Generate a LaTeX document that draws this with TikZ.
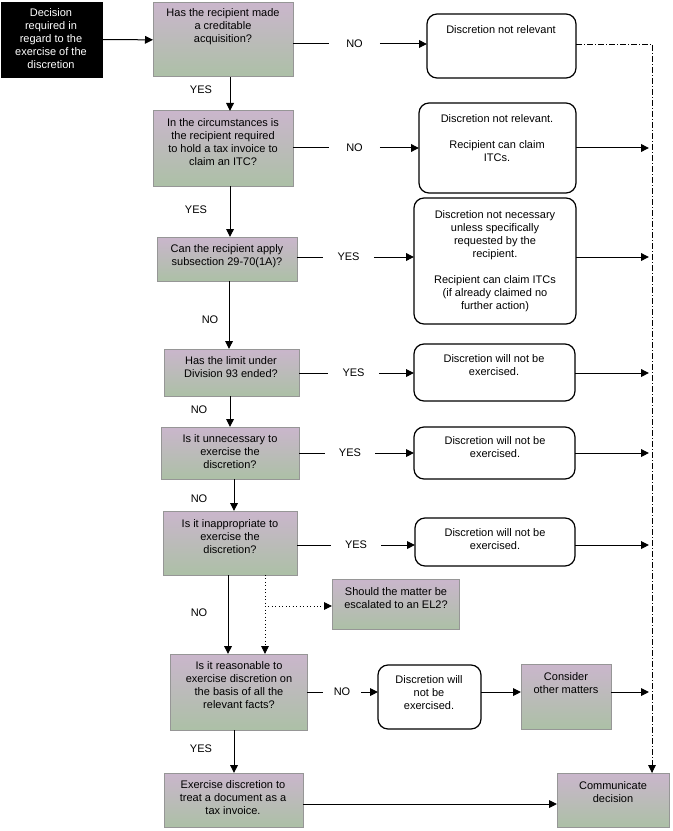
\documentclass[tikz,border=0pt]{standalone}
\usepackage{fontspec}
\setmainfont{Liberation Sans}
\usetikzlibrary{arrows.meta,fit}
\definecolor{qtop}{RGB}{202,182,204}
\definecolor{qbot}{RGB}{172,192,166}
\definecolor{qline}{RGB}{150,150,150}
\begin{document}
\begin{tikzpicture}[x=0.75pt,y=-0.75pt,
  font=\fontsize{8.25}{9.75}\selectfont,
  qbox/.style={draw=qline,line width=0.75pt,top color=qtop,bottom color=qbot,inner sep=0pt,outer sep=0pt},
  rbox/.style={draw=black,line width=0.9pt,rounded corners=7.5pt,fill=white,inner sep=0pt,outer sep=0pt},
  bbox/.style={draw=black,fill=black,inner sep=0pt,outer sep=0pt},
  txt/.style={align=center,inner sep=0pt},
  lbl/.style={inner sep=0pt,minimum width=37.5pt,minimum height=8pt},
  vlbl/.style={inner sep=0pt},
  conn/.style={line width=0.75pt},
  arr/.style={line width=0.75pt,-{Triangle[length=6pt,width=5.8pt]}},
  dotarr/.style={line width=0.6pt,dotted,-{Triangle[length=6pt,width=5.8pt]}},
  dasharr/.style={line width=0.6pt,dash pattern=on 4.5pt off 1.5pt on 0.75pt off 1.5pt,-{Triangle[length=6pt,width=5.8pt]}}]
\useasboundingbox (0,0) rectangle (672,831);

% ---------- boxes ----------
\node[bbox,fit={(1,2) (102,77)}] (blk) {};
\node[qbox,fit={(153,3) (293,77)}] (q1) {};
\node[qbox,fit={(153,111) (293,186)}] (q2) {};
\node[qbox,fit={(157,237) (297,281)}] (q3) {};
\node[qbox,fit={(164,349) (299,396)}] (q4) {};
\node[qbox,fit={(161,427) (299,479)}] (q5) {};
\node[qbox,fit={(163,511) (297,575)}] (q6) {};
\node[qbox,fit={(332,579) (459,629)}] (el2) {};
\node[qbox,fit={(170,654) (307,730)}] (q7) {};
\node[qbox,fit={(164,773) (303,827)}] (q8) {};
\node[qbox,fit={(521,664) (611,729)}] (cons) {};
\node[qbox,fit={(557,773) (669,827)}] (comm) {};

\node[rbox,fit={(427,14) (576,78)}] (r1) {};
\node[rbox,fit={(419,103) (576,193)}] (r2) {};
\node[rbox,fit={(414,198) (576,324)}] (r3) {};
\node[rbox,fit={(414,344) (575,401)}] (r4) {};
\node[rbox,fit={(414,427) (575,479)}] (r5) {};
\node[rbox,fit={(415,518) (575,566)}] (r6) {};
\node[rbox,fit={(378,665) (481,729)}] (r7) {};

% ---------- texts ----------
\node[txt,text=white] (blkt) at (51,39) {Decision\\required in\\regard to the\\exercise of the\\discretion};
\node[txt] (q1t) at (223,27) {Has the recipient made\\a creditable\\acquisition?};
\node[txt] (q2t) at (223,142) {In the circumstances is\\the recipient required\\to hold a tax invoice to\\claim an ITC?};
\node[txt] (q3t) at (227,256) {Can the recipient apply\\subsection 29-70(1A)?};
\node[txt] (q4t) at (231,367) {Has the limit under\\Division 93 ended?};
\node[txt] (q5t) at (230,452) {Is it unnecessary to\\exercise the\\discretion?};
\node[txt] (q6t) at (230,537) {Is it inappropriate to\\exercise the\\discretion?};
\node[txt] (el2t) at (396,598) {Should the matter be\\escalated to an EL2?};
\node[txt] (q7t) at (239,685) {Is it reasonable to\\exercise discretion on\\the basis of all the\\relevant facts?};
\node[txt] (q8t) at (233,798) {Exercise discretion to\\treat a document as a\\tax invoice.};
\node[txt] (const) at (566,683) {Consider\\other matters};
\node[txt] (commt) at (613,792) {Communicate\\decision};

\node[txt] (r1t) at (501,30) {Discretion not relevant};
\node[txt] (r2t) at (497,138.5) {Discretion not relevant.\\[9.75pt]Recipient can claim\\ITCs.};
\node[txt] (r3t) at (495,261) {Discretion not necessary\\unless specifically\\requested by the\\recipient.\\[9.75pt]Recipient can claim ITCs\\(if already claimed no\\further action)};
\node[txt] (r4t) at (494,365) {Discretion will not be\\exercised.};
\node[txt] (r5t) at (495,447) {Discretion will not be\\exercised.};
\node[txt] (r6t) at (495,539) {Discretion will not be\\exercised.};
\node[txt] (r7t) at (429,693) {Discretion will\\not be\\exercised.};

% ---------- branch labels on the right ----------
\node[lbl] (n1) at (354.5,44) {NO};
\node[lbl] (n2) at (354.5,148) {NO};
\node[lbl] (n3) at (348.5,257) {YES};
\node[lbl] (n4) at (353.5,373) {YES};
\node[lbl] (n5) at (350,453) {YES};
\node[lbl] (n6) at (356,545) {YES};
\node[lbl,minimum width=28.5pt] (n7) at (342,692) {NO};

% ---------- labels on vertical connectors ----------
\node[vlbl] (v1l) at (201,90) {YES};
\node[vlbl] (v2l) at (196,210) {YES};
\node[vlbl] (v3l) at (210,320) {NO};
\node[vlbl] (v4l) at (199,410) {NO};
\node[vlbl] (v5l) at (199,499) {NO};
\node[vlbl] (v6l) at (199,613) {NO};
\node[vlbl] (v7l) at (201,749) {YES};

% ---------- helper coordinates ----------
\coordinate (x1) at (230,0);
\coordinate (x2) at (230,0);
\coordinate (x3) at (229,0);
\coordinate (x4) at (230,0);
\coordinate (x5) at (234,0);
\coordinate (x6) at (228,0);
\coordinate (x7) at (234,0);
\coordinate (d1) at (265,606);
\coordinate (rail) at (649,0);
\coordinate (c1) at (652,44);
\coordinate (h8) at (0,804);

% ---------- connectors ----------
\draw[arr] (blk) -- (q1);

\draw[conn] (q1.east |- n1) -- (n1);
\draw[arr] (n1) -- (r1.west |- n1);
\draw[conn] (q2.east |- n2) -- (n2);
\draw[arr] (n2) -- (r2.west |- n2);
\draw[conn] (q3.east |- n3) -- (n3);
\draw[arr] (n3) -- (r3.west |- n3);
\draw[conn] (q4.east |- n4) -- (n4);
\draw[arr] (n4) -- (r4.west |- n4);
\draw[conn] (q5.east |- n5) -- (n5);
\draw[arr] (n5) -- (r5.west |- n5);
\draw[conn] (q6.east |- n6) -- (n6);
\draw[arr] (n6) -- (r6.west |- n6);
\draw[conn] (q7.east |- n7) -- (n7);
\draw[arr] (n7) -- (r7.west |- n7);

\draw[arr] (q1.south -| x1) -- (q2.north -| x1);
\draw[arr] (q2.south -| x2) -- (q3.north -| x2);
\draw[arr] (q3.south -| x3) -- (q4.north -| x3);
\draw[arr] (q4.south -| x4) -- (q5.north -| x4);
\draw[arr] (q5.south -| x5) -- (q6.north -| x5);
\draw[arr] (q6.south -| x6) -- (q7.north -| x6);
\draw[arr] (q7.south -| x7) -- (q8.north -| x7);

\draw[dotarr] (q6.south -| d1) -- (q7.north -| d1);
\draw[dotarr] (d1) -- (el2.west |- d1);

\draw[arr] (r2.east |- n2) -- (rail |- n2);
\draw[arr] (r3.east |- n3) -- (rail |- n3);
\draw[arr] (r4.east |- n4) -- (rail |- n4);
\draw[arr] (r5.east |- n5) -- (rail |- n5);
\draw[arr] (r6.east |- n6) -- (rail |- n6);
\draw[arr] (r7.east |- n7) -- (cons.west |- n7);
\draw[arr] (cons.east |- n7) -- (rail |- n7);

\draw[dasharr] (r1.east |- c1) -- (c1) -- (c1 |- comm.north);
\draw[arr] (q8.east |- h8) -- (comm.west |- h8);
\end{tikzpicture}
\end{document}
